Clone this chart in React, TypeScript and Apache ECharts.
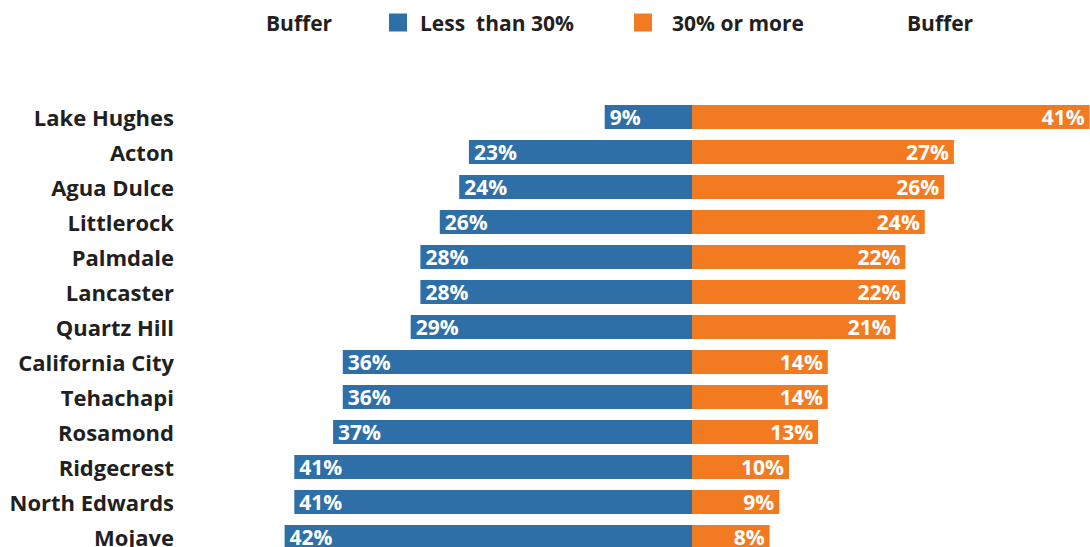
import React, { useEffect, useRef } from "react";
import * as echarts from "echarts";

const categories = [
  "Lake Hughes",
  "Acton",
  "Agua Dulce",
  "Littlerock",
  "Palmdale",
  "Lancaster",
  "Quartz Hill",
  "California City",
  "Tehachapi",
  "Rosamond",
  "Ridgecrest",
  "North Edwards",
  "Mojave",
];
const lessThan30 = [9, 23, 24, 26, 28, 28, 29, 36, 36, 37, 41, 41, 42];
const thirtyOrMore = [41, 27, 26, 24, 22, 22, 21, 14, 14, 13, 10, 9, 8];

const BLUE = "#2E6FA7";
const ORANGE = "#F27B22";
const TEXT = "#231F20";
const FONT = "Open Sans";

const INNER_W = 1200;
const INNER_H = 580;

export default function App() {
  const ref = useRef<HTMLDivElement>(null);
  useEffect(() => {
    if (!ref.current) return;
    const chart = echarts.init(ref.current, null, { renderer: "svg" });
    const legendText = {
      fontFamily: FONT,
      fontWeight: "bold" as const,
      fontSize: 21,
      color: TEXT,
    };
    const center = 692;
    const k = 9.7;
    const left = center - 50 * k;
    const top = 99.5;
    const band = 35;
    const legendTop = 12;
    chart.setOption({
      animation: false,
      backgroundColor: "#ffffff",
      legend: [
        {
          data: [{ name: "Buffer1", icon: "none" }],
          left: 261,
          top: legendTop,
          padding: 0,
          itemWidth: 0,
          itemHeight: 18,
          formatter: () => "Buffer",
          textStyle: legendText,
          selectedMode: false,
        },
        {
          data: ["Less  than 30%"],
          left: 389,
          top: legendTop,
          padding: 0,
          itemWidth: 18,
          itemHeight: 18,
          icon: "rect",
          textStyle: { ...legendText, padding: [0, 0, 0, 8] },
          selectedMode: false,
        },
        {
          data: ["30% or more"],
          left: 634,
          top: legendTop,
          padding: 0,
          itemWidth: 18,
          itemHeight: 18,
          icon: "rect",
          textStyle: { ...legendText, padding: [0, 0, 0, 15] },
          selectedMode: false,
        },
        {
          data: [{ name: "Buffer2", icon: "none" }],
          left: 902,
          top: legendTop,
          padding: 0,
          itemWidth: 0,
          itemHeight: 18,
          formatter: () => "Buffer",
          textStyle: legendText,
          selectedMode: false,
        },
      ],
      grid: {
        left: left,
        right: INNER_W - left - 100 * k,
        top: top,
        bottom: INNER_H - (top + categories.length * band),
        containLabel: false,
      },
      xAxis: {
        type: "value",
        min: -50,
        max: 50,
        show: false,
      },
      yAxis: {
        type: "category",
        data: categories,
        inverse: true,
        axisLine: { show: false },
        axisTick: { show: false },
        splitLine: { show: false },
        axisLabel: {
          margin: left - 174,
          fontFamily: FONT,
          fontWeight: "bold",
          fontSize: 22,
          color: TEXT,
        },
      },
      series: [
        { name: "Buffer1", type: "bar", data: [], stack: "s" },
        {
          name: "Less  than 30%",
          type: "bar",
          stack: "s",
          barWidth: 24,
          data: lessThan30.map((v) => -v),
          itemStyle: { color: BLUE },
          label: {
            show: true,
            position: "insideLeft",
            distance: 5,
            formatter: (p: any) => Math.abs(p.value) + "%",
            color: "#ffffff",
            fontFamily: FONT,
            fontWeight: "bold",
            fontSize: 21,
          },
        },
        {
          name: "30% or more",
          type: "bar",
          stack: "s",
          barWidth: 24,
          data: thirtyOrMore,
          itemStyle: { color: ORANGE },
          label: {
            show: true,
            position: "insideRight",
            distance: 5,
            formatter: (p: any) => p.value + "%",
            color: "#ffffff",
            fontFamily: FONT,
            fontWeight: "bold",
            fontSize: 21,
          },
        },
        { name: "Buffer2", type: "bar", data: [], stack: "s" },
      ],
    });
    return () => chart.dispose();
  }, []);
  return (
    <div
      style={{
        position: "fixed",
        left: 0,
        top: 0,
        width: 1090,
        height: 547,
        overflow: "hidden",
        background: "#ffffff",
      }}
    >
      <div ref={ref} style={{ width: INNER_W, height: INNER_H }} />
    </div>
  );
}
